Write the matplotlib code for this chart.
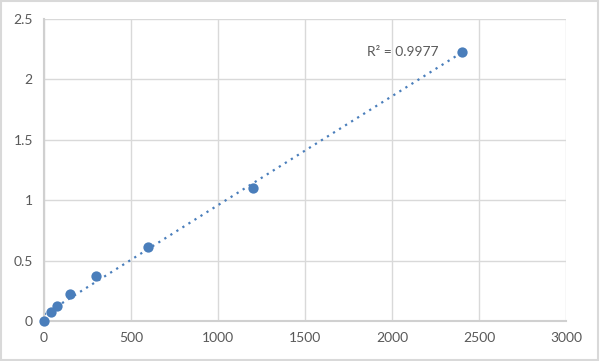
import numpy as np
import matplotlib.pyplot as plt

# standard curve points
conc = [0, 37.5, 75, 150, 300, 600, 1200, 2400]
od = [0.0, 0.075, 0.125, 0.22, 0.37, 0.615, 1.1, 2.23]
r2_label = "R² = 0.9977"

blue = '#4a7ebb'
plt.rcParams['font.family'] = ['Lato', 'DejaVu Sans']

fig = plt.figure(figsize=(6, 3.61), dpi=100)
fig.patches.append(plt.Rectangle((0.002, 0.003), 0.995, 0.994, transform=fig.transFigure,
                                 fill=False, edgecolor='#d9d9d9', linewidth=1.5))
ax = fig.add_axes([0.0733, 0.111, 0.87, 0.836])

# polynomial trendline (order 2)
coef = np.polyfit(conc, od, 2)
xs = np.linspace(0, 2400, 200)
ax.plot(xs, np.polyval(coef, xs), linestyle=(0, (1, 2.2)), color=blue, linewidth=1.6, zorder=2)
ax.scatter(conc, od, s=55, color=blue, zorder=3, linewidths=0, clip_on=False)

ax.text(2265, 2.23, r2_label, ha='right', va='center', fontsize=10, color='#595959')

ax.set_xlim(0, 3000)
ax.set_ylim(0, 2.5)
ax.set_xticks(range(0, 3001, 500))
ax.set_yticks([0, 0.5, 1, 1.5, 2, 2.5])
ax.set_yticklabels(['0', '0.5', '1', '1.5', '2', '2.5'])
ax.grid(True, color='#d9d9d9', linewidth=1)
ax.set_axisbelow(True)
for s in ['top', 'right']:
    ax.spines[s].set_visible(False)
for s in ['left', 'bottom']:
    ax.spines[s].set_color('#d0d0d0')
    ax.spines[s].set_linewidth(1.5)
ax.tick_params(length=0, labelsize=10, labelcolor='#595959', pad=8)

fig.savefig('out.png', dpi=100)
